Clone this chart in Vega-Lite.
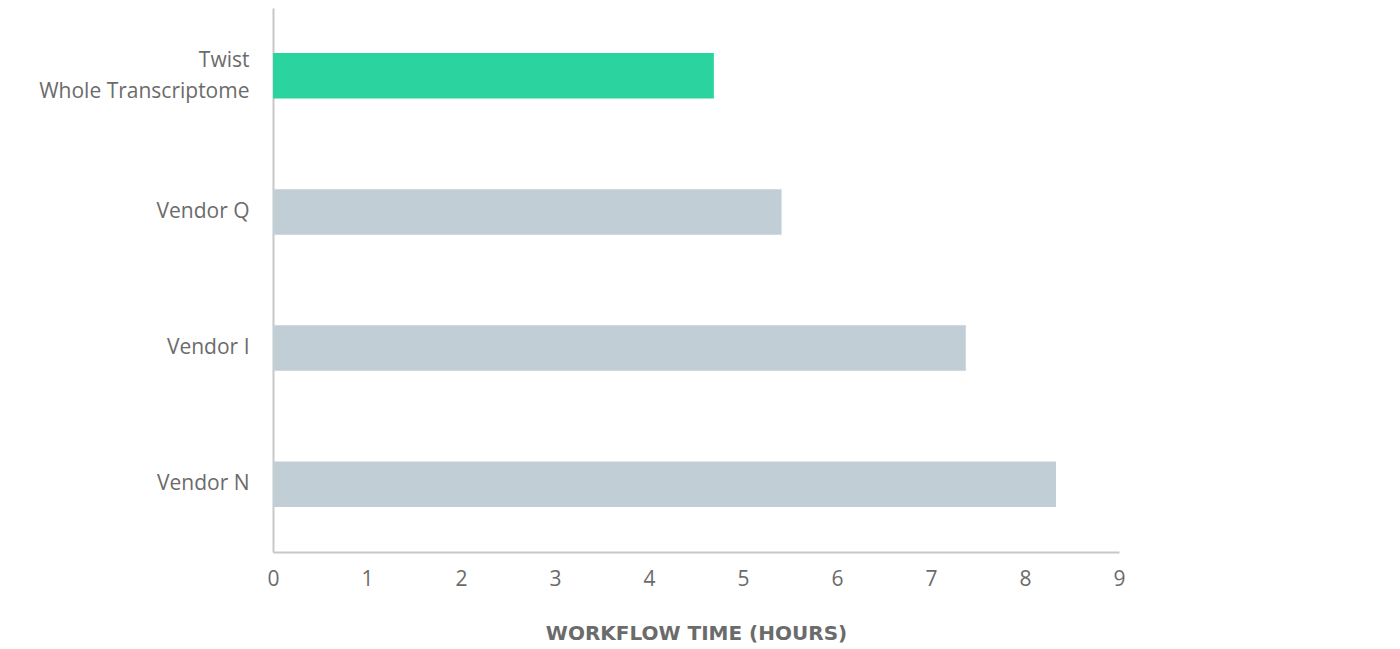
{
  "$schema": "https://vega.github.io/schema/vega-lite/v6.json",
  "width": 846,
  "height": 544,
  "autosize": {"type": "none"},
  "padding": {"left": 273, "top": 8, "right": 281, "bottom": 97},
  "background": "white",
  "data": {
    "values": [
      {"name": "Twist|Whole Transcriptome", "hours": 4.69, "group": "Twist"},
      {"name": "Vendor Q", "hours": 5.41, "group": "Vendor"},
      {"name": "Vendor I", "hours": 7.37, "group": "Vendor"},
      {"name": "Vendor N", "hours": 8.33, "group": "Vendor"}
    ]
  },
  "mark": {"type": "bar"},
  "encoding": {
    "y": {
      "field": "name",
      "type": "nominal",
      "sort": null,
      "scale": {"paddingInner": 0.666, "paddingOuter": 0.33},
      "axis": {
        "title": null,
        "ticks": false,
        "domainColor": "#c8c8c8",
        "domainWidth": 2,
        "labelFont": "Open Sans",
        "labelFontSize": 21,
        "labelColor": "#6b6b6b",
        "labelPadding": 24,
        "labelLimit": 400,
        "labelLineHeight": 31,
        "labelOffset": {"condition": {"test": "datum.value === 'Twist|Whole Transcriptome'", "value": -15}, "value": 0},
        "labelExpr": "split(datum.label, '|')"
      }
    },
    "x": {
      "field": "hours",
      "type": "quantitative",
      "scale": {"domain": [0, 9], "nice": false},
      "axis": {
        "title": "WORKFLOW TIME (HOURS)",
        "values": [0, 1, 2, 3, 4, 5, 6, 7, 8, 9],
        "grid": false,
        "ticks": false,
        "domainColor": "#c8c8c8",
        "domainWidth": 2,
        "labelFont": "Open Sans",
        "labelFontSize": 21,
        "labelColor": "#6b6b6b",
        "labelPadding": 16,
        "labelFlush": false,
        "titleFont": "DejaVu Sans",
        "titleFontSize": 20,
        "titleFontWeight": "bold",
        "titleColor": "#6b6b6b",
        "titlePadding": 34
      }
    },
    "color": {
      "field": "group",
      "type": "nominal",
      "scale": {"domain": ["Twist", "Vendor"], "range": ["#2bd49e", "#c2ced6"]},
      "legend": null
    }
  },
  "config": {"view": {"stroke": null}}
}
